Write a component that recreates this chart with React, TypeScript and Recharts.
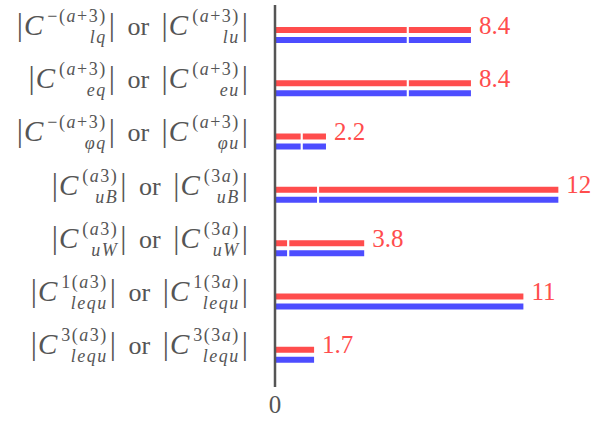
import { Bar, BarChart, LabelList, XAxis, YAxis } from "recharts";

const categories = ["lq", "eq", "phiq", "uB", "uW", "lequ1", "lequ3"];
const leftSup = ["\u2212(a+3)", "(a+3)", "\u2212(a+3)", "(a3)", "(a3)", "1(a3)", "3(a3)"];
const leftSub = ["lq", "eq", "\u03c6q", "uB", "uW", "lequ", "lequ"];
const rightSup = ["(a+3)", "(a+3)", "(a+3)", "(3a)", "(3a)", "1(3a)", "3(3a)"];
const rightSub = ["lu", "eu", "\u03c6u", "uB", "uW", "lequ", "lequ"];

// each bar is drawn as two stacked pieces, split where the white gap sits
const firstPart = [5.7, 5.7, 1.15, 1.85, 0.57, 10.7, 1.72];
const secondPart = [2.75, 2.75, 1.08, 10.35, 3.3, 0, 0];
const totalLabels = ["8.4", "8.4", "2.2", "12", "3.8", "11", "1.7"];

const RED = "#ff4d4d";
const BLUE = "#4d4dff";
const GREY = "#555555";
const SERIF = "Liberation Serif";

const data = categories.map((name, i) => ({
  name,
  redA: firstPart[i],
  redB: secondPart[i],
  blueA: firstPart[i],
  blueB: secondPart[i],
}));

function mathText(s: string) {
  return s.split("").map((ch, i) =>
    /[A-Za-z\u03c6]/.test(ch) ? <i key={i}>{ch}</i> : <span key={i}>{ch}</span>
  );
}

function Scripts({ sup, sub }: { sup: string; sub: string }) {
  return (
    <span
      style={{
        display: "inline-flex",
        flexDirection: "column",
        verticalAlign: "13px",
        fontSize: 18,
        lineHeight: "21px",
        letterSpacing: "1.5px",
        marginLeft: 1,
        marginRight: 1,
      }}
    >
      <span style={{ paddingLeft: 3 }}>{mathText(sup)}</span>
      <span>{mathText(sub)}</span>
    </span>
  );
}

const bar = <span style={{ fontSize: 31, lineHeight: 1, margin: "0 1px" }}>|</span>;
const bigC = <i style={{ fontSize: 29, lineHeight: 1 }}>C</i>;

function CategoryTick(props: any) {
  const { x, y, payload } = props;
  const i = categories.indexOf(payload.value);
  if (i < 0) return null;
  const right = x - 18;
  return (
    <foreignObject x={right - 272} y={y - 48} width={272} height={80}>
      <div
        style={{
          fontFamily: SERIF,
          fontSize: 26,
          color: GREY,
          whiteSpace: "nowrap",
          textAlign: "right",
          lineHeight: "80px",
          height: 80,
        }}
      >
        {bar}
        {bigC}
        <Scripts sup={leftSup[i]} sub={leftSub[i]} />
        {bar}
        <span style={{ margin: "0 5px" }}> or </span>
        {bar}
        {bigC}
        <Scripts sup={rightSup[i]} sub={rightSub[i]} />
        {bar}
      </div>
    </foreignObject>
  );
}

function TotalLabel(props: any) {
  const { x, y, width, height, index } = props;
  const end = x + (width * (firstPart[index] + secondPart[index])) / firstPart[index];
  return (
    <text x={end + 7} y={y + height - 0.5} fill={RED} fontFamily={SERIF} fontSize={25}>
      {totalLabels[index]}
    </text>
  );
}

export default function App() {
  return (
    <div style={{ position: "absolute", left: 0, top: 0, background: "#fff" }}>
      <BarChart
        width={596}
        height={422}
        data={data}
        layout="vertical"
        margin={{ top: 5, right: 18, bottom: 0, left: 0 }}
        barSize={8}
        barGap={2}
      >
        <XAxis
          type="number"
          domain={[0, 13]}
          ticks={[0]}
          axisLine={false}
          tickLine={false}
          height={35}
          tick={{ fill: GREY, fontSize: 25, fontFamily: SERIF }}
        />
        <YAxis
          type="category"
          dataKey="name"
          width={275}
          padding={{ top: 3, bottom: 6 }}
          axisLine={{ stroke: GREY, strokeWidth: 2.5 }}
          tickLine={false}
          tick={<CategoryTick />}
          interval={0}
        />
        <Bar dataKey="redA" stackId="r" fill={RED} stroke="#ffffff" strokeWidth={2} isAnimationActive={false}>
          <LabelList dataKey="redA" content={<TotalLabel />} />
        </Bar>
        <Bar dataKey="redB" stackId="r" fill={RED} stroke="#ffffff" strokeWidth={2} isAnimationActive={false} />
        <Bar dataKey="blueA" stackId="b" fill={BLUE} stroke="#ffffff" strokeWidth={2} isAnimationActive={false} />
        <Bar dataKey="blueB" stackId="b" fill={BLUE} stroke="#ffffff" strokeWidth={2} isAnimationActive={false} />
      </BarChart>
    </div>
  );
}
